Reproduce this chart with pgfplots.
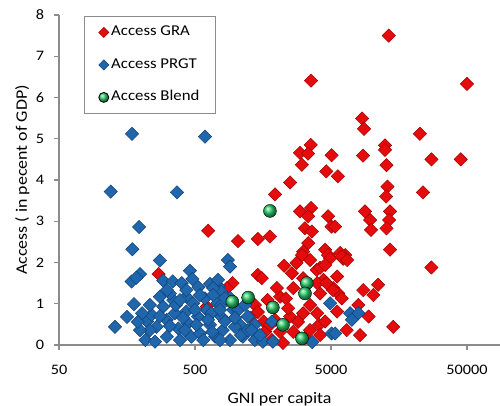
\documentclass[border=0pt]{standalone}
\usepackage{fontspec}
\setmainfont{Carlito}[FakeStretch=1.12]
\usepackage{pgfplots}
\pgfplotsset{compat=1.18}
\definecolor{gra}{RGB}{228,12,12}
\definecolor{graedge}{RGB}{165,0,0}
\definecolor{prgt}{RGB}{32,102,172}
\definecolor{prgtedge}{RGB}{16,66,120}
\definecolor{blend}{RGB}{40,205,105}
\definecolor{axgray}{RGB}{140,140,140}
\begin{document}
\begin{tikzpicture}
\begin{axis}[
  scale only axis, width=441pt, height=330pt,
  xmode=log, xmin=50, xmax=87500, ymin=0, ymax=8,
  axis lines*=left,
  axis line style={axgray, line width=1.2pt},
  xtick={50,500,5000,50000}, xticklabels={50,500,5000,50000},
  xminorticks=false,
  ytick={0,1,2,3,4,5,6,7,8},
  tick align=outside, major tick length=5pt,
  tick style={axgray, line width=1.2pt},
  /pgf/number format/assume math mode=true,
  tick label style={font=\fontsize{14.5}{16}\selectfont, black},
  xticklabel style={yshift=-12pt},
  yticklabel style={xshift=-6.5pt},
  xlabel={GNI per capita},
  ylabel={Access ( in pecent of GDP)},
  label style={font=\fontsize{16}{17}\selectfont},
  xlabel style={at={(axis description cs:0.5,-0.1758)}, anchor=base},
  ylabel style={at={(axis description cs:-0.0726,0.5)}, anchor=base},
  clip=false,
  legend cell align=left,
  legend style={at={(axis description cs:0.0567,0.997)}, anchor=north west,
    draw=axgray, line width=0.8pt, fill=white, inner xsep=14pt, inner ysep=9.5pt,
    row sep=19.5pt, font=\fontsize{15}{16}\selectfont,
    nodes={inner xsep=2pt, inner ysep=0pt, text height=10pt, text depth=3pt}},
]
\addplot[only marks, mark=square*, mark size=4.7pt,
  mark options={rotate=45, fill=gra, draw=graedge, line width=0.5pt},
  legend image post style={mark size=3.6pt}] coordinates {
(13300,7.50) (3570,6.41) (50000,6.33) (8460,5.49) (8750,5.24) (22540,5.12)
(12480,4.84) (3550,4.85) (2960,4.66) (3390,4.64) (3050,4.37) (5050,4.60) (8610,4.59)
(27400,4.50) (45000,4.50) (12800,4.36) (4620,4.21) (5620,4.09) (2500,3.94)
(1940,3.65) (2960,3.24) (3570,3.32) (3400,3.12) (4760,3.12) (5050,2.87)
(3220,2.83) (3620,2.75) (3400,2.47) (3120,2.26) (4530,2.31) (4760,2.18)
(625,2.77) (1036,2.52) (1450,2.57) (1780,2.63) (270,1.72) (945,1.50) (860,1.38)
(1450,1.70) (1550,1.62) (1710,1.09) (1380,0.97) (1600,0.57) (1640,0.32) (610,0.93)
(3060,2.18) (2580,1.74) (3930,1.82) (4930,2.10) (4400,1.58) (2110,1.17) (2640,1.38)
(4160,1.25) (2330,1.13) (3120,0.77) (2500,0.69) (3960,0.77) (4080,0.49) (2110,0.32)
(2640,0.32) (3510,0.36) (4160,0.24) (4530,0.57) (1940,0.61) (5550,0.81) (2420,0.89)
(3510,0.97) (2000,1.38) (5200,1.38) (8900,3.24) (9690,3.03) (9850,2.79) (13580,3.24)
(13360,3.03) (12800,2.83) (13580,2.31) (5360,2.87) (6360,2.18) (5840,2.23)
(13000,3.84) (12700,3.60) (23700,3.70) (27400,1.88) (6140,2.09) (5550,1.66)
(11100,1.46) (8650,1.33) (10250,1.21) (5650,1.25) (6000,1.13) (7950,0.97) (9450,0.69)
(6520,0.36) (8180,0.24) (14350,0.44) (12480,4.73) (1270,0.66) (1780,0.49) (1450,0.80)
(1840,0.12) (2220,0.05) (2860,0.56) (3220,0.17) (2260,1.92) (2790,1.99) (3510,2.06)
(3120,1.62) (4160,1.87) (4530,1.94) (3960,1.50) (4640,1.50) (5180,1.33) (6000,2.14)
(6580,2.06)
};
\addlegendentry{Access GRA}
\addplot[only marks, mark=square*, mark size=4.7pt,
  mark options={rotate=45, fill=prgt, draw=prgtedge, line width=0.5pt},
  legend image post style={mark size=3.6pt}] coordinates {
(172,5.12) (592,5.05) (120,3.72) (368,3.70) (194,2.86) (173,2.32) (276,2.05)
(197,1.72) (171,1.54) (292,1.56) (343,1.54) (178,0.99) (158,0.68) (129,0.44)
(459,1.80) (478,1.60) (874,2.06) (905,1.90) (530,1.40) (645,1.48) (745,1.42)
(780,1.29) (905,1.14) (185,1.63)
(216,0.12) (254,0.08) (222,0.57) (240,0.73) (292,0.93) (261,0.44) (310,0.61)
(310,0.20) (346,1.09) (356,0.77) (378,0.40) (388,0.12) (432,1.17) (432,0.81)
(444,0.53) (470,0.20) (485,1.01) (526,0.69) (544,0.28) (575,0.12) (592,1.13)
(610,0.85) (645,0.49) (702,0.20) (730,1.01) (780,0.69) (800,0.36) (905,0.12)
(955,0.85) (1071,0.49) (1127,0.20) (1220,0.69) (738,1.58) (680,1.38) (204,0.77)
(276,1.17) (327,1.25) (400,1.50) (432,1.33)
(680,1.21) (780,0.97) (1040,0.85) (1380,0.49) (1090,0.24) (1380,0.12) (1580,0.08)
(831,0.57) (984,0.44) (1227,0.36) (660,0.77) (1840,0.57)
(4930,1.01) (5050,0.28) (3640,0.07) (1870,0.08) (6920,0.77) (7950,0.77) (7120,0.61)
(5360,0.28)
(233,0.36) (276,0.70) (327,0.46) (362,0.97) (408,0.66) (422,0.36) (500,0.85)
(512,0.49) (623,0.61) (670,0.32) (764,0.85) (831,1.14) (984,0.66) (1166,0.97)
(1300,0.36) (544,1.21) (388,1.09) (311,1.33) (233,0.97) (197,0.36) (190,0.56)
(1500,0.24) (764,0.12)
};
\addlegendentry{Access PRGT}
\addplot[only marks, mark=ball, mark size=6.5pt,
  mark options={ball color=blend},
  legend image post style={mark size=5pt}] coordinates {
(1780,3.25) (3320,1.50) (3220,1.25) (1870,0.91) (2220,0.49) (3060,0.16)
(940,1.05) (1230,1.15)
};
\addlegendentry{Access Blend\hspace{10pt}}
\end{axis}
\pgfresetboundingbox
\path[use as bounding box] (-59pt,-61pt) rectangle (441pt,345pt);
\end{tikzpicture}
\end{document}
